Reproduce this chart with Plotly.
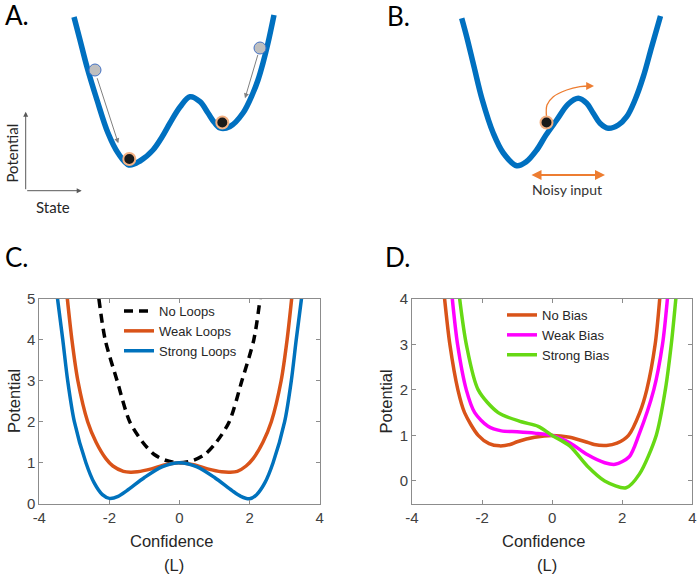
import plotly.graph_objects as go

W, H = 700, 577

# ---------------- Panel A / B illustration data (state, potential) ----------------
a_state = [74, 80, 87, 97, 108, 118, 129, 140, 153, 162, 170, 180, 190, 200, 208, 214, 220, 230, 243, 253, 258, 263, 268, 274]
a_potential = [183, 160, 133, 100, 67, 47, 35, 39, 50, 63, 77, 93, 103.3, 98.3, 87, 78, 72, 73.5, 87, 107, 120, 137, 157, 185]

a_ball_gray_state = [95, 260]
a_ball_gray_pot = [130, 152]
a_ball_black_state = [129.3, 222.3]
a_ball_black_pot = [41, 77.5]
a_arrow_start_state = [96.7, 258.3]
a_arrow_start_pot = [123.3, 146.7]
a_arrow_end_state = [118.3, 245]
a_arrow_end_pot = [56.7, 101.7]

b_state = [461.7, 467, 474, 482.3, 493.3, 503.3, 516.7, 526, 536.7, 546, 556.7, 568.3, 578.3, 586.7, 593.3, 600, 608.3, 618.3, 626.7, 635, 643.3, 651.7, 660.5]
b_potential = [181.7, 162, 133.3, 100, 66.7, 47, 34.3, 38, 50, 65, 80, 96, 101.7, 96.7, 86.7, 76.7, 71.7, 75, 83.3, 100, 123.3, 153.3, 184]
b_ball_state = [546.5]
b_ball_pot = [77.5]
b_kick_state = [546.5, 547, 553.3, 566.7, 580, 590]
b_kick_pot = [83.5, 95, 103.3, 110, 113.3, 114]
noisy_range_state = [530, 605]
noisy_range_pot = [25, 25]

# ---------------- Panel C data ----------------
strong_x = [-3.48, -3.33, -3.19, -3.0, -2.67, -2.43, -2.2, -2.0, -1.75, -1.5, -1.0, -0.5, 0,
            0.5, 1.0, 1.5, 1.75, 2.0, 2.2, 2.43, 2.67, 3.0, 3.19, 3.33, 3.48]
strong_y = [5, 4, 3, 2, 1, 0.5, 0.22, 0.13, 0.18, 0.32, 0.64, 0.9, 1.0,
            0.9, 0.64, 0.32, 0.18, 0.12, 0.22, 0.5, 1, 2, 3, 4, 5]
weak_x = [-3.2, -3.07, -2.9, -2.62, -2.38, -2.1, -1.9, -1.6, -1.4, -1.2, -0.8, -0.4, 0,
          0.4, 0.8, 1.2, 1.45, 1.65, 1.9, 2.1, 2.38, 2.62, 2.9, 3.07, 3.2]
weak_y = [5, 4, 3, 2, 1.5, 1.1, 0.92, 0.79, 0.77, 0.78, 0.85, 0.95, 1.0,
          0.95, 0.85, 0.78, 0.77, 0.79, 0.92, 1.1, 1.5, 2, 3, 4, 5]
noloop_x = [-2.3, -2.12, -1.78, -1.42, -1.05, -0.72, -0.4, 0, 0.4, 0.72, 1.05, 1.42, 1.78, 2.12, 2.3]
noloop_y = [5, 4, 3, 2, 1.5, 1.2, 1.06, 1.0, 1.06, 1.2, 1.5, 2, 3, 4, 5]

# ---------------- Panel D data ----------------
nobias_x = [-3.07, -2.92, -2.69, -2.5, -2.11, -1.8, -1.5, -1.2, -1.0, -0.5, 0,
            0.5, 1.0, 1.2, 1.55, 1.85, 2.18, 2.5, 2.7, 2.94, 3.07]
nobias_y = [4, 3, 2, 1.5, 1.0, 0.82, 0.77, 0.8, 0.86, 0.96, 1.0,
            0.96, 0.85, 0.8, 0.78, 0.83, 1.0, 1.5, 2, 3, 4]
wbias_x = [-2.85, -2.70, -2.45, -2.21, -1.83, -1.45, -1.0, -0.5, 0,
           0.5, 1.0, 1.5, 1.8, 2.2, 2.47, 2.9, 3.15, 3.29]
wbias_y = [4, 3, 2, 1.5, 1.2, 1.1, 1.08, 1.05, 1.0,
           0.84, 0.58, 0.40, 0.365, 0.53, 1.0, 2, 3, 4]
sbias_x = [-2.64, -2.45, -2.11, -1.54, -0.88, -0.4, 0, 0.5, 1.0, 1.5, 2.11, 2.49, 2.97, 3.23, 3.4, 3.53]
sbias_y = [4, 3, 2, 1.5, 1.3, 1.2, 1.0, 0.77, 0.33, 0.0, -0.15, 0.15, 1.0, 2, 3, 4]

x_ticks = [-4, -2, 0, 2, 4]
x_tick_text = ["-4", "-2", "0", "2", "4"]
c_y_ticks = [0, 1, 2, 3, 4, 5]
d_y_ticks = [0, 1, 2, 3, 4]

BLUE = "#0072BD"
ORANGE = "#D95319"
MAGENTA = "#FF00FF"
GREEN = "#66D914"
ILL_BLUE = "#0070C0"
ILL_ORANGE = "#ED7D31"


def px(x):
    return x / W


def py(y):
    return 1 - y / H


fig = go.Figure()

# --- Panel A ---
fig.add_trace(go.Scatter(x=a_state, y=a_potential, mode="lines", line=dict(color=ILL_BLUE, width=5.5, shape="spline", smoothing=1),
                         xaxis="x3", yaxis="y3", showlegend=False, hoverinfo="skip"))
fig.add_trace(go.Scatter(x=a_ball_gray_state, y=a_ball_gray_pot, mode="markers",
                         marker=dict(size=12, color="#BFBFBF", line=dict(color="#4472C4", width=1)),
                         xaxis="x3", yaxis="y3", showlegend=False, hoverinfo="skip"))
fig.add_trace(go.Scatter(x=a_ball_black_state, y=a_ball_black_pot, mode="markers",
                         marker=dict(size=12, color="#1A1A1A", line=dict(color="#F4B183", width=2)),
                         xaxis="x3", yaxis="y3", showlegend=False, hoverinfo="skip"))

# --- Panel B ---
fig.add_trace(go.Scatter(x=b_state, y=b_potential, mode="lines", line=dict(color=ILL_BLUE, width=5.5, shape="spline", smoothing=1),
                         xaxis="x4", yaxis="y4", showlegend=False, hoverinfo="skip"))
fig.add_trace(go.Scatter(x=b_kick_state, y=b_kick_pot, mode="lines", line=dict(color=ILL_ORANGE, width=1.3, shape="spline"),
                         xaxis="x4", yaxis="y4", showlegend=False, hoverinfo="skip"))
fig.add_trace(go.Scatter(x=b_ball_state, y=b_ball_pot, mode="markers",
                         marker=dict(size=12, color="#1A1A1A", line=dict(color="#F4B183", width=2)),
                         xaxis="x4", yaxis="y4", showlegend=False, hoverinfo="skip"))

# --- Panel C ---
fig.add_trace(go.Scatter(x=noloop_x, y=noloop_y, mode="lines", name="No Loops",
                         line=dict(color="black", width=3.5, dash="9px,6px", shape="spline", smoothing=0.8),
                         xaxis="x", yaxis="y", legend="legend"))
fig.add_trace(go.Scatter(x=weak_x, y=weak_y, mode="lines", name="Weak Loops",
                         line=dict(color=ORANGE, width=3.5, shape="spline", smoothing=0.8),
                         xaxis="x", yaxis="y", legend="legend"))
fig.add_trace(go.Scatter(x=strong_x, y=strong_y, mode="lines", name="Strong Loops",
                         line=dict(color=BLUE, width=3.5, shape="spline", smoothing=0.8),
                         xaxis="x", yaxis="y", legend="legend"))

# --- Panel D ---
fig.add_trace(go.Scatter(x=nobias_x, y=nobias_y, mode="lines", name="No Bias",
                         line=dict(color=ORANGE, width=3.5, shape="spline", smoothing=0.8),
                         xaxis="x2", yaxis="y2", legend="legend2"))
fig.add_trace(go.Scatter(x=wbias_x, y=wbias_y, mode="lines", name="Weak Bias",
                         line=dict(color=MAGENTA, width=3.5, shape="spline", smoothing=0.8),
                         xaxis="x2", yaxis="y2", legend="legend2"))
fig.add_trace(go.Scatter(x=sbias_x, y=sbias_y, mode="lines", name="Strong Bias",
                         line=dict(color=GREEN, width=3.5, shape="spline", smoothing=0.8),
                         xaxis="x2", yaxis="y2", legend="legend2"))

AX_FONT = dict(family="Liberation Sans, Arial, sans-serif", size=15, color="#404040")
axis_common = dict(showline=True, mirror="ticks", linecolor="#8C8C8C", linewidth=1,
                   ticks="inside", ticklen=4, tickcolor="#8C8C8C", showgrid=False, zeroline=False,
                   tickfont=AX_FONT, fixedrange=True, automargin=False)

ill_axis = dict(visible=False, fixedrange=True, automargin=False)

fig.update_layout(
    width=W, height=H, margin=dict(l=0, r=0, t=0, b=0, autoexpand=False),
    paper_bgcolor="white", plot_bgcolor="rgba(0,0,0,0)",
    xaxis=dict(domain=[px(39.3), px(319.7)], range=[-4, 4], tickvals=x_ticks, ticktext=x_tick_text, anchor="y", **axis_common),
    yaxis=dict(domain=[py(503.7), py(298.8)], range=[0, 5], tickvals=c_y_ticks, anchor="x", **axis_common),
    xaxis2=dict(domain=[px(412), px(692.3)], range=[-4, 4], tickvals=x_ticks, ticktext=x_tick_text, anchor="y2", **axis_common),
    yaxis2=dict(domain=[py(503.7), py(298.8)], range=[-0.5, 4], tickvals=d_y_ticks, anchor="x2", **axis_common),
    xaxis3=dict(domain=[0, 0.5], range=[0, 350], anchor="y3", **ill_axis),
    yaxis3=dict(domain=[py(235), 1], range=[-35, 200], anchor="x3", **ill_axis),
    xaxis4=dict(domain=[0.5, 1], range=[350, 700], anchor="y4", **ill_axis),
    yaxis4=dict(domain=[py(235), 1], range=[-35, 200], anchor="x4", **ill_axis),
    legend=dict(x=px(119), y=py(296), xanchor="left", yanchor="top", bgcolor="rgba(0,0,0,0)",
                font=dict(family="Liberation Sans, Arial, sans-serif", size=13, color="#262626"),
                tracegroupgap=0, itemwidth=30),
    legend2=dict(x=px(502), y=py(300), xanchor="left", yanchor="top", bgcolor="rgba(0,0,0,0)",
                 font=dict(family="Liberation Sans, Arial, sans-serif", size=13, color="#262626"),
                 tracegroupgap=0, itemwidth=30),
)

ann = []
LBL = dict(family="Lato, Open Sans", size=26, color="black")
for t, x, y in [("A.", 17, 15.5), ("B.", 398, 16), ("C.", 17, 257), ("D.", 397, 257)]:
    ann.append(dict(text=t, x=px(x), y=py(y), xref="paper", yref="paper", showarrow=False,
                    xanchor="center", yanchor="middle", font=LBL))

TXT = dict(family="Liberation Sans, Arial, sans-serif", size=16.5, color="#262626")
ann += [
    dict(text="Potential", x=px(13.5), y=py(401.5), textangle=-90, xref="paper", yref="paper", showarrow=False,
         xanchor="center", yanchor="middle", font=TXT),
    dict(text="Potential", x=px(385), y=py(401.5), textangle=-90, xref="paper", yref="paper", showarrow=False,
         xanchor="center", yanchor="middle", font=TXT),
    dict(text="Confidence", x=px(171), y=py(541), xref="paper", yref="paper", showarrow=False,
         xanchor="center", yanchor="middle", font=TXT),
    dict(text="(L)", x=px(173.5), y=py(565), xref="paper", yref="paper", showarrow=False,
         xanchor="center", yanchor="middle", font=TXT),
    dict(text="Confidence", x=px(543.5), y=py(541), xref="paper", yref="paper", showarrow=False,
         xanchor="center", yanchor="middle", font=TXT),
    dict(text="(L)", x=px(546.5), y=py(565), xref="paper", yref="paper", showarrow=False,
         xanchor="center", yanchor="middle", font=TXT),
]

ILL_TXT = dict(family="Lato, Open Sans", size=15, color="#262626")
ann += [
    dict(text="Potential", x=px(11.5), y=py(153), textangle=-90, xref="paper", yref="paper", showarrow=False,
         xanchor="center", yanchor="middle", font=ILL_TXT),
    dict(text="State", x=px(52.5), y=py(206.5), xref="paper", yref="paper", showarrow=False,
         xanchor="center", yanchor="middle", font=ILL_TXT),
    dict(text="Noisy input", x=px(566.5), y=py(189.5), xref="paper", yref="paper", showarrow=False,
         xanchor="center", yanchor="middle", font=dict(family="Lato, Open Sans", size=14, color="#333333")),
]

# axis arrows of the sketch (state/potential frame)
ann.append(dict(x=25.7, y=88.3, ax=25.7, ay=9.3, xref="x3", yref="y3", axref="x3", ayref="y3",
                showarrow=True, arrowhead=2, arrowsize=1, arrowwidth=1, arrowcolor="#595959", text=""))
ann.append(dict(x=81.7, y=9.3, ax=25.7, ay=9.3, xref="x3", yref="y3", axref="x3", ayref="y3",
                showarrow=True, arrowhead=2, arrowsize=1, arrowwidth=1, arrowcolor="#595959", text=""))
for sx, sy, ex, ey in zip(a_arrow_start_state, a_arrow_start_pot, a_arrow_end_state, a_arrow_end_pot):
    ann.append(dict(x=ex, y=ey, ax=sx, ay=sy, xref="x3", yref="y3", axref="x3", ayref="y3",
                    showarrow=True, arrowhead=2, arrowsize=1, arrowwidth=1, arrowcolor="#808080", text=""))
# kick arrow tip
ann.append(dict(x=594, y=114, ax=b_kick_state[-1], ay=b_kick_pot[-1], xref="x4", yref="y4", axref="x4", ayref="y4",
                showarrow=True, arrowhead=2, arrowsize=1.2, arrowwidth=1.3, arrowcolor=ILL_ORANGE, text=""))
# noisy input double arrow
ann.append(dict(x=noisy_range_state[1], y=noisy_range_pot[1], ax=noisy_range_state[0], ay=noisy_range_pot[0],
                xref="x4", yref="y4", axref="x4", ayref="y4", showarrow=True, arrowhead=2, startarrowhead=2,
                arrowside="end+start", arrowsize=1, arrowwidth=2, arrowcolor=ILL_ORANGE, text=""))

fig.update_layout(annotations=ann)

fig.write_html("out.html", config={"displayModeBar": False},
               post_script="document.body.style.margin='0px';document.body.style.overflow='hidden';")
